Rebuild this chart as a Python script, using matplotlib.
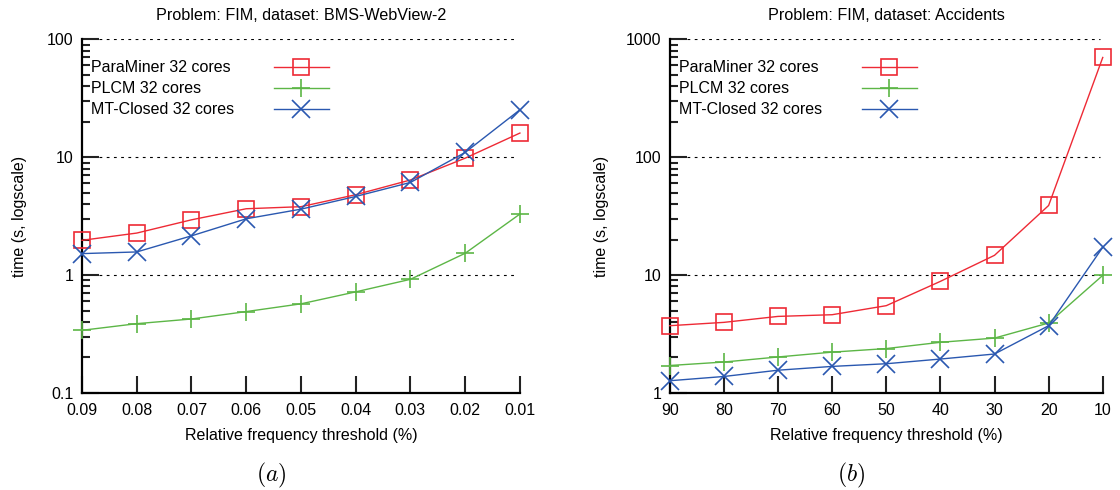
import matplotlib
matplotlib.use("Agg")
import matplotlib.pyplot as plt
from matplotlib.lines import Line2D
from matplotlib.ticker import LogLocator, NullFormatter, FixedLocator

plt.rcParams['font.family'] = ['Liberation Sans', 'DejaVu Sans']
plt.rcParams['mathtext.fontset'] = 'cm'

# data
bms_labels = ["0.09", "0.08", "0.07", "0.06", "0.05", "0.04", "0.03", "0.02", "0.01"]
bms_paraminer = [1.97, 2.27, 2.94, 3.65, 3.8, 4.8, 6.4, 9.8, 16.0]
bms_plcm = [0.34, 0.387, 0.424, 0.49, 0.57, 0.72, 0.92, 1.53, 3.29]
bms_mtclosed = [1.52, 1.57, 2.15, 3.0, 3.62, 4.64, 6.1, 10.96, 25.2]

acc_labels = ["90", "80", "70", "60", "50", "40", "30", "20", "10"]
acc_paraminer = [3.72, 3.97, 4.46, 4.61, 5.5, 8.84, 14.7, 38.9, 700]
acc_plcm = [1.71, 1.83, 2.02, 2.22, 2.38, 2.69, 2.92, 3.92, 9.94]
acc_mtclosed = [1.27, 1.38, 1.56, 1.68, 1.77, 1.94, 2.14, 3.72, 17.2]

series_names = ["ParaMiner 32 cores", "PLCM 32 cores", "MT-Closed 32 cores"]
colors = ["#ee2a35", "#5cb646", "#2a58b0"]
markers = ["s", "+", "x"]
msizes = [12, 13, 12.5]

fig = plt.figure(figsize=(11.2, 4.9), dpi=100)
ax1 = fig.add_axes([0.0732, 0.198, 0.391, 0.722])
ax2 = fig.add_axes([0.598, 0.198, 0.3866, 0.722])


def draw(ax, labels, series, ylim, title, ylabel_x, handle_x):
    x = list(range(len(labels)))
    lines = []
    for vals, name, c, m, ms in zip(series, series_names, colors, markers, msizes):
        ln, = ax.plot(x, vals, color=c, lw=1.0, marker=m, ms=ms, mfc='none',
                      mec=c, mew=1.2, label=name, clip_on=False, zorder=3)
        lines.append(ln)
    ax.set_yscale('log')
    ax.set_ylim(*ylim)
    ax.set_xlim(0, len(labels) - 1)
    ax.xaxis.set_major_locator(FixedLocator(x))
    ax.set_xticklabels(labels)
    ax.yaxis.set_major_locator(LogLocator(base=10))
    ax.yaxis.set_minor_locator(LogLocator(base=10, subs=range(2, 10)))
    ax.yaxis.set_minor_formatter(NullFormatter())
    ax.yaxis.set_major_formatter(plt.FuncFormatter(lambda v, p: f"{v:g}"))

    for s in ['top', 'right']:
        ax.spines[s].set_visible(False)
    for s in ['left', 'bottom']:
        ax.spines[s].set_linewidth(1.6)

    ax.tick_params(axis='both', which='major', direction='in', length=12,
                   width=1.5, labelsize=11.5, color='#222222')
    ax.tick_params(axis='y', which='minor', direction='in', length=6, width=1.5,
                   color='#222222')
    ax.tick_params(axis='y', which='major', pad=6)
    ax.tick_params(axis='x', which='major', pad=7)

    # dashed grid at the major decades (not on the bottom spine)
    for v in ax.get_yticks():
        if ylim[0] < v <= ylim[1]:
            ax.axhline(v, xmin=0.039, xmax=0.993, color='black', lw=0.8,
                       ls=(0, (2.5, 4)), zorder=1)

    ax.set_title(title, fontsize=11.6, pad=14)
    ax.set_xlabel("Relative frequency threshold (%)", fontsize=11.5)
    ax.xaxis.set_label_coords(0.5, -0.1)
    ax.set_ylabel("time (s, logscale)", fontsize=11.5)
    ax.yaxis.set_label_coords(ylabel_x, 0.5)

    # gnuplot-style key: left-aligned text, samples in a column to the right
    common = dict(loc='upper left', frameon=False, fontsize=11.5,
                  labelspacing=0.37, borderpad=0, borderaxespad=0)
    blanks = [Line2D([], [], linestyle='none') for _ in lines]
    key_text = ax.legend(blanks, series_names, bbox_to_anchor=(0.0205, 0.94),
                         handlelength=0, handletextpad=0, **common)
    ax.add_artist(key_text)
    ax.legend(lines, [" "] * len(lines), bbox_to_anchor=(handle_x, 0.94),
              handlelength=3.45, handletextpad=0, **common)


draw(ax1, bms_labels, [bms_paraminer, bms_plcm, bms_mtclosed], (0.1, 100),
     "Problem: FIM, dataset: BMS-WebView-2", -0.126, 0.438)
draw(ax2, acc_labels, [acc_paraminer, acc_plcm, acc_mtclosed], (1, 1000),
     "Problem: FIM, dataset: Accidents", -0.141, 0.443)

fig.text(0.242, 0.03, "$(a)$", ha='center', va='center', fontsize=17)
fig.text(0.760, 0.03, "$(b)$", ha='center', va='center', fontsize=17)

fig.savefig("out.png", dpi=100)
